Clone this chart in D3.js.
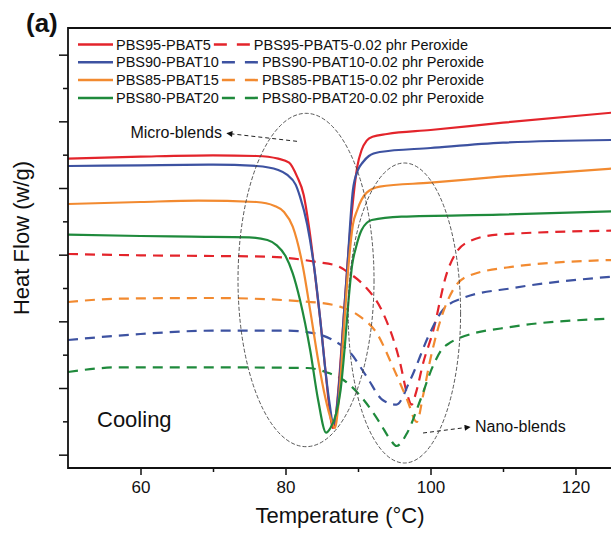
<!DOCTYPE html>
<html><head><meta charset="utf-8">
<script src="https://cdn.jsdelivr.net/npm/d3@7"></script>
<style>
body{margin:0;background:#fff}
text{font-family:"Liberation Sans",Arial,Helvetica,sans-serif;fill:#111}
</style>
</head><body>
<svg id="chart" width="611" height="539"></svg>
<script>
// ---------- DATA (Temperature in °C, Heat Flow in arbitrary stacked units) ----------
const seriesLabels = ["PBS95-PBAT5","PBS90-PBAT10","PBS85-PBAT15","PBS80-PBAT20"];
const peroxideSuffix = "-0.02 phr Peroxide";
const seriesColors = ["#e3242b","#3d52a1","#f28a30","#1f8a3c"];

const xMajorTicks = [60,80,100,120];
const xMinorTicks = [70,90,110];
const yMajorTicks = [0,1,2,3,4,5,6];
const yMinorTicks = [0.5,1.5,2.5,3.5,4.5,5.5];

// Solid (micro-blends)
const pbs95_T  = [50,60,70,76,79,80.5,81.6,82.5,83.3,84,84.8,85.5,86,86.5,86.9,87.4,88,88.7,89.4,89.9,90.5,91.2,92,94,100,110,125];
const pbs95_HF = [4.44,4.47,4.49,4.48,4.44,4.38,4.17,3.90,3.37,2.77,2.02,1.27,0.75,0.40,0.55,1.12,2.02,3.07,3.90,4.32,4.57,4.71,4.77,4.81,4.87,4.98,5.13];

const pbs90_T  = [50,60,70,76,79,80.2,81.4,82,83,84,84.8,85.5,86.1,86.6,87,87.5,88,88.5,89.3,90,90.7,91.5,93,100,110,125];
const pbs90_HF = [4.33,4.34,4.35,4.33,4.27,4.20,4.05,3.87,3.45,2.77,2.02,1.27,0.75,0.45,0.63,1.20,2.02,2.77,3.97,4.27,4.39,4.48,4.54,4.60,4.68,4.72];

const pbs85_T  = [50,60,68,76,78.5,79.8,81,82.4,83.5,84.5,85.5,86.3,86.8,87.3,88,88.7,89.3,89.9,91.2,93,100,109.6,125];
const pbs85_HF = [3.76,3.79,3.81,3.79,3.73,3.64,3.42,2.82,2.10,1.42,0.85,0.52,0.40,0.75,1.80,2.85,3.45,3.67,3.93,4.02,4.08,4.17,4.29];

const pbs80_T  = [50,60,67,75,77.5,78.8,80,81,82,83.4,84.5,85.6,86.2,87,87.6,88.2,88.7,89.2,89.7,90.5,91.9,96,109.6,125];
const pbs80_HF = [3.30,3.28,3.27,3.26,3.22,3.14,2.98,2.72,2.32,1.57,0.82,0.33,0.40,0.62,0.97,1.65,2.32,2.85,3.10,3.37,3.52,3.57,3.60,3.65];

// Dashed (nano-blends, 0.02 phr peroxide)
const pbs95p_T  = [50,60,70,77.4,84.3,87.4,88.7,91,93.3,95.8,96.8,97.4,98,99,100.3,102.3,103.6,105,109.2,125];
const pbs95p_HF = [3.01,2.99,2.98,2.97,2.89,2.82,2.73,2.52,2.16,1.38,0.90,0.75,0.93,1.38,1.83,2.74,3.04,3.18,3.30,3.36];

const pbs90p_T  = [50,60,70,80,84,86.5,89,91.2,93.4,95.3,97.2,99.9,101.7,104.5,111.4,125];
const pbs90p_HF = [1.72,1.81,1.86,1.86,1.82,1.72,1.52,1.17,0.82,0.75,1.12,1.82,2.17,2.35,2.50,2.67];

const pbs85p_T  = [50,57,70,83.4,87.5,90.3,92.6,94.8,96.8,98.1,99,99.9,101.3,103.1,105,111.4,125];
const pbs85p_HF = [2.29,2.34,2.35,2.29,2.22,2.07,1.82,1.32,0.82,0.49,0.90,1.39,1.99,2.47,2.67,2.82,2.92];

const pbs80p_T  = [50,57,68,83,85.8,88.5,90.8,93,94.5,95.3,96.8,98.6,100.3,101.5,102.7,104,111.4,125];
const pbs80p_HF = [1.24,1.31,1.31,1.30,1.23,1.08,0.82,0.48,0.22,0.13,0.33,0.82,1.32,1.57,1.68,1.75,1.92,2.04];

// ---------- BUILD ----------
const solidSeries = [[pbs95_T,pbs95_HF],[pbs90_T,pbs90_HF],[pbs85_T,pbs85_HF],[pbs80_T,pbs80_HF]];
const dashSeries  = [[pbs95p_T,pbs95p_HF],[pbs90p_T,pbs90p_HF],[pbs85p_T,pbs85p_HF],[pbs80p_T,pbs80p_HF]];

const svg = d3.select("#chart");
const L = 68, T0 = 28, B = 468, R = 611;
const x = d3.scaleLinear().domain([50,125]).range([L, L + 75*7.25]);
const y = d3.scaleLinear().domain([-0.2,6.4]).range([B, T0]);

svg.append("defs").append("clipPath").attr("id","clip")
  .append("rect").attr("x",L).attr("y",T0).attr("width",R-L).attr("height",B-T0);

const line = d3.line().x(d=>x(d[0])).y(d=>y(d[1])).curve(d3.curveMonotoneX);
const zip = (a,b)=>a.map((t,i)=>[t,b[i]]);

const plot = svg.append("g").attr("clip-path","url(#clip)");

// ellipses (annotation)
const ell = [
  {cx:82.83, cy:2.62, rx:9.38, ry:2.5},
  {cx:96.4, cy:2.125, rx:7.75, ry:2.25}
];
ell.forEach(e=>{
  svg.append("ellipse")
    .attr("cx",x(e.cx)).attr("cy",y(e.cy))
    .attr("rx",x(e.cx+e.rx)-x(e.cx)).attr("ry",y(0)-y(e.ry))
    .attr("fill","none").attr("stroke","#444").attr("stroke-width",0.9)
    .attr("stroke-dasharray","4,2");
});

dashSeries.forEach((s,i)=>{
  plot.append("path").attr("d",line(zip(s[0],s[1])))
    .attr("fill","none").attr("stroke",seriesColors[i]).attr("stroke-width",2.2)
    .attr("stroke-dasharray","10,7");
});
solidSeries.forEach((s,i)=>{
  plot.append("path").attr("d",line(zip(s[0],s[1])))
    .attr("fill","none").attr("stroke",seriesColors[i]).attr("stroke-width",2.2);
});

// axes
const axCol = "#111";
const xg = svg.append("g").attr("transform",`translate(0,${B})`)
  .call(d3.axisBottom(x).tickValues(xMajorTicks).tickSize(7).tickSizeOuter(0).tickPadding(6).tickFormat(d3.format("d")));
xg.select(".domain").remove();
xg.selectAll("line").attr("stroke",axCol).attr("stroke-width",1.5);
xg.selectAll("text").attr("font-size",17).attr("font-family","Liberation Sans, Arial, sans-serif").attr("fill","#111");
const xm = svg.append("g").attr("transform",`translate(0,${B})`)
  .call(d3.axisBottom(x).tickValues(xMinorTicks).tickSize(4).tickSizeOuter(0).tickFormat(""));
xm.select(".domain").remove();
xm.selectAll("line").attr("stroke",axCol).attr("stroke-width",1.5);

const yg = svg.append("g").attr("transform",`translate(${L},0)`)
  .call(d3.axisLeft(y).tickValues(yMajorTicks).tickSize(9).tickSizeOuter(0).tickFormat(""));
yg.select(".domain").remove();
yg.selectAll("line").attr("stroke",axCol).attr("stroke-width",1.5);
const ym = svg.append("g").attr("transform",`translate(${L},0)`)
  .call(d3.axisLeft(y).tickValues(yMinorTicks).tickSize(5).tickSizeOuter(0).tickFormat(""));
ym.select(".domain").remove();
ym.selectAll("line").attr("stroke",axCol).attr("stroke-width",1.5);

svg.append("path").attr("d",`M${R},${T0}H${L}V${B}H${R}`)
  .attr("fill","none").attr("stroke",axCol).attr("stroke-width",1.8);

// axis titles
svg.append("text").attr("x",340).attr("y",523).attr("text-anchor","middle")
  .attr("font-size",22).text("Temperature (°C)");
svg.append("text").attr("transform",`translate(28.5,238) rotate(-90)`).attr("text-anchor","middle")
  .attr("font-size",22).text("Heat Flow (w/g)");
svg.append("text").attr("x",26).attr("y",32).attr("font-size",26).attr("font-weight","bold").text("(a)");
svg.append("text").attr("x",97).attr("y",427).attr("font-size",22).text("Cooling");

// arrows
const defs = svg.select("defs");
defs.append("marker").attr("id","ah").attr("viewBox","0 0 10 10").attr("refX",9).attr("refY",5)
  .attr("markerWidth",9).attr("markerHeight",6).attr("markerUnits","userSpaceOnUse").attr("orient","auto")
  .append("path").attr("d","M0,0L10,5L0,10Z").attr("fill","#111");
const arrows = [
  {from:[81.59,4.70], to:[71.93,4.82]},
  {from:[98.97,0.325], to:[105.45,0.415]}
];
arrows.forEach(a=>{
  svg.append("line").attr("x1",x(a.from[0])).attr("y1",y(a.from[1]))
    .attr("x2",x(a.to[0])).attr("y2",y(a.to[1]))
    .attr("stroke","#222").attr("stroke-width",1).attr("stroke-dasharray","4,3")
    .attr("marker-end","url(#ah)");
});
svg.append("text").attr("x",x(71.93)-5).attr("y",y(4.82)+5).attr("text-anchor","end")
  .attr("font-size",16).text("Micro-blends");
svg.append("text").attr("x",x(105.45)+5).attr("y",y(0.415)+5)
  .attr("font-size",16).text("Nano-blends");

// legend
seriesLabels.forEach((lab,i)=>{
  const cy = 44.5 + i*17.8;
  const g = svg.append("g");
  g.append("line").attr("x1",78).attr("x2",113).attr("y1",cy).attr("y2",cy)
    .attr("stroke",seriesColors[i]).attr("stroke-width",2.5);
  const t1 = g.append("text").attr("x",116).attr("y",cy+5).attr("font-size",14.5).text(lab);
  const w = t1.node().getComputedTextLength();
  const dx = 116 + w + 3;
  g.append("line").attr("x1",dx).attr("x2",dx+36).attr("y1",cy).attr("y2",cy)
    .attr("stroke",seriesColors[i]).attr("stroke-width",2.5).attr("stroke-dasharray","13,10");
  g.append("text").attr("x",dx+40).attr("y",cy+5).attr("font-size",14.5).text(lab+peroxideSuffix);
});
</script>
</body></html>
